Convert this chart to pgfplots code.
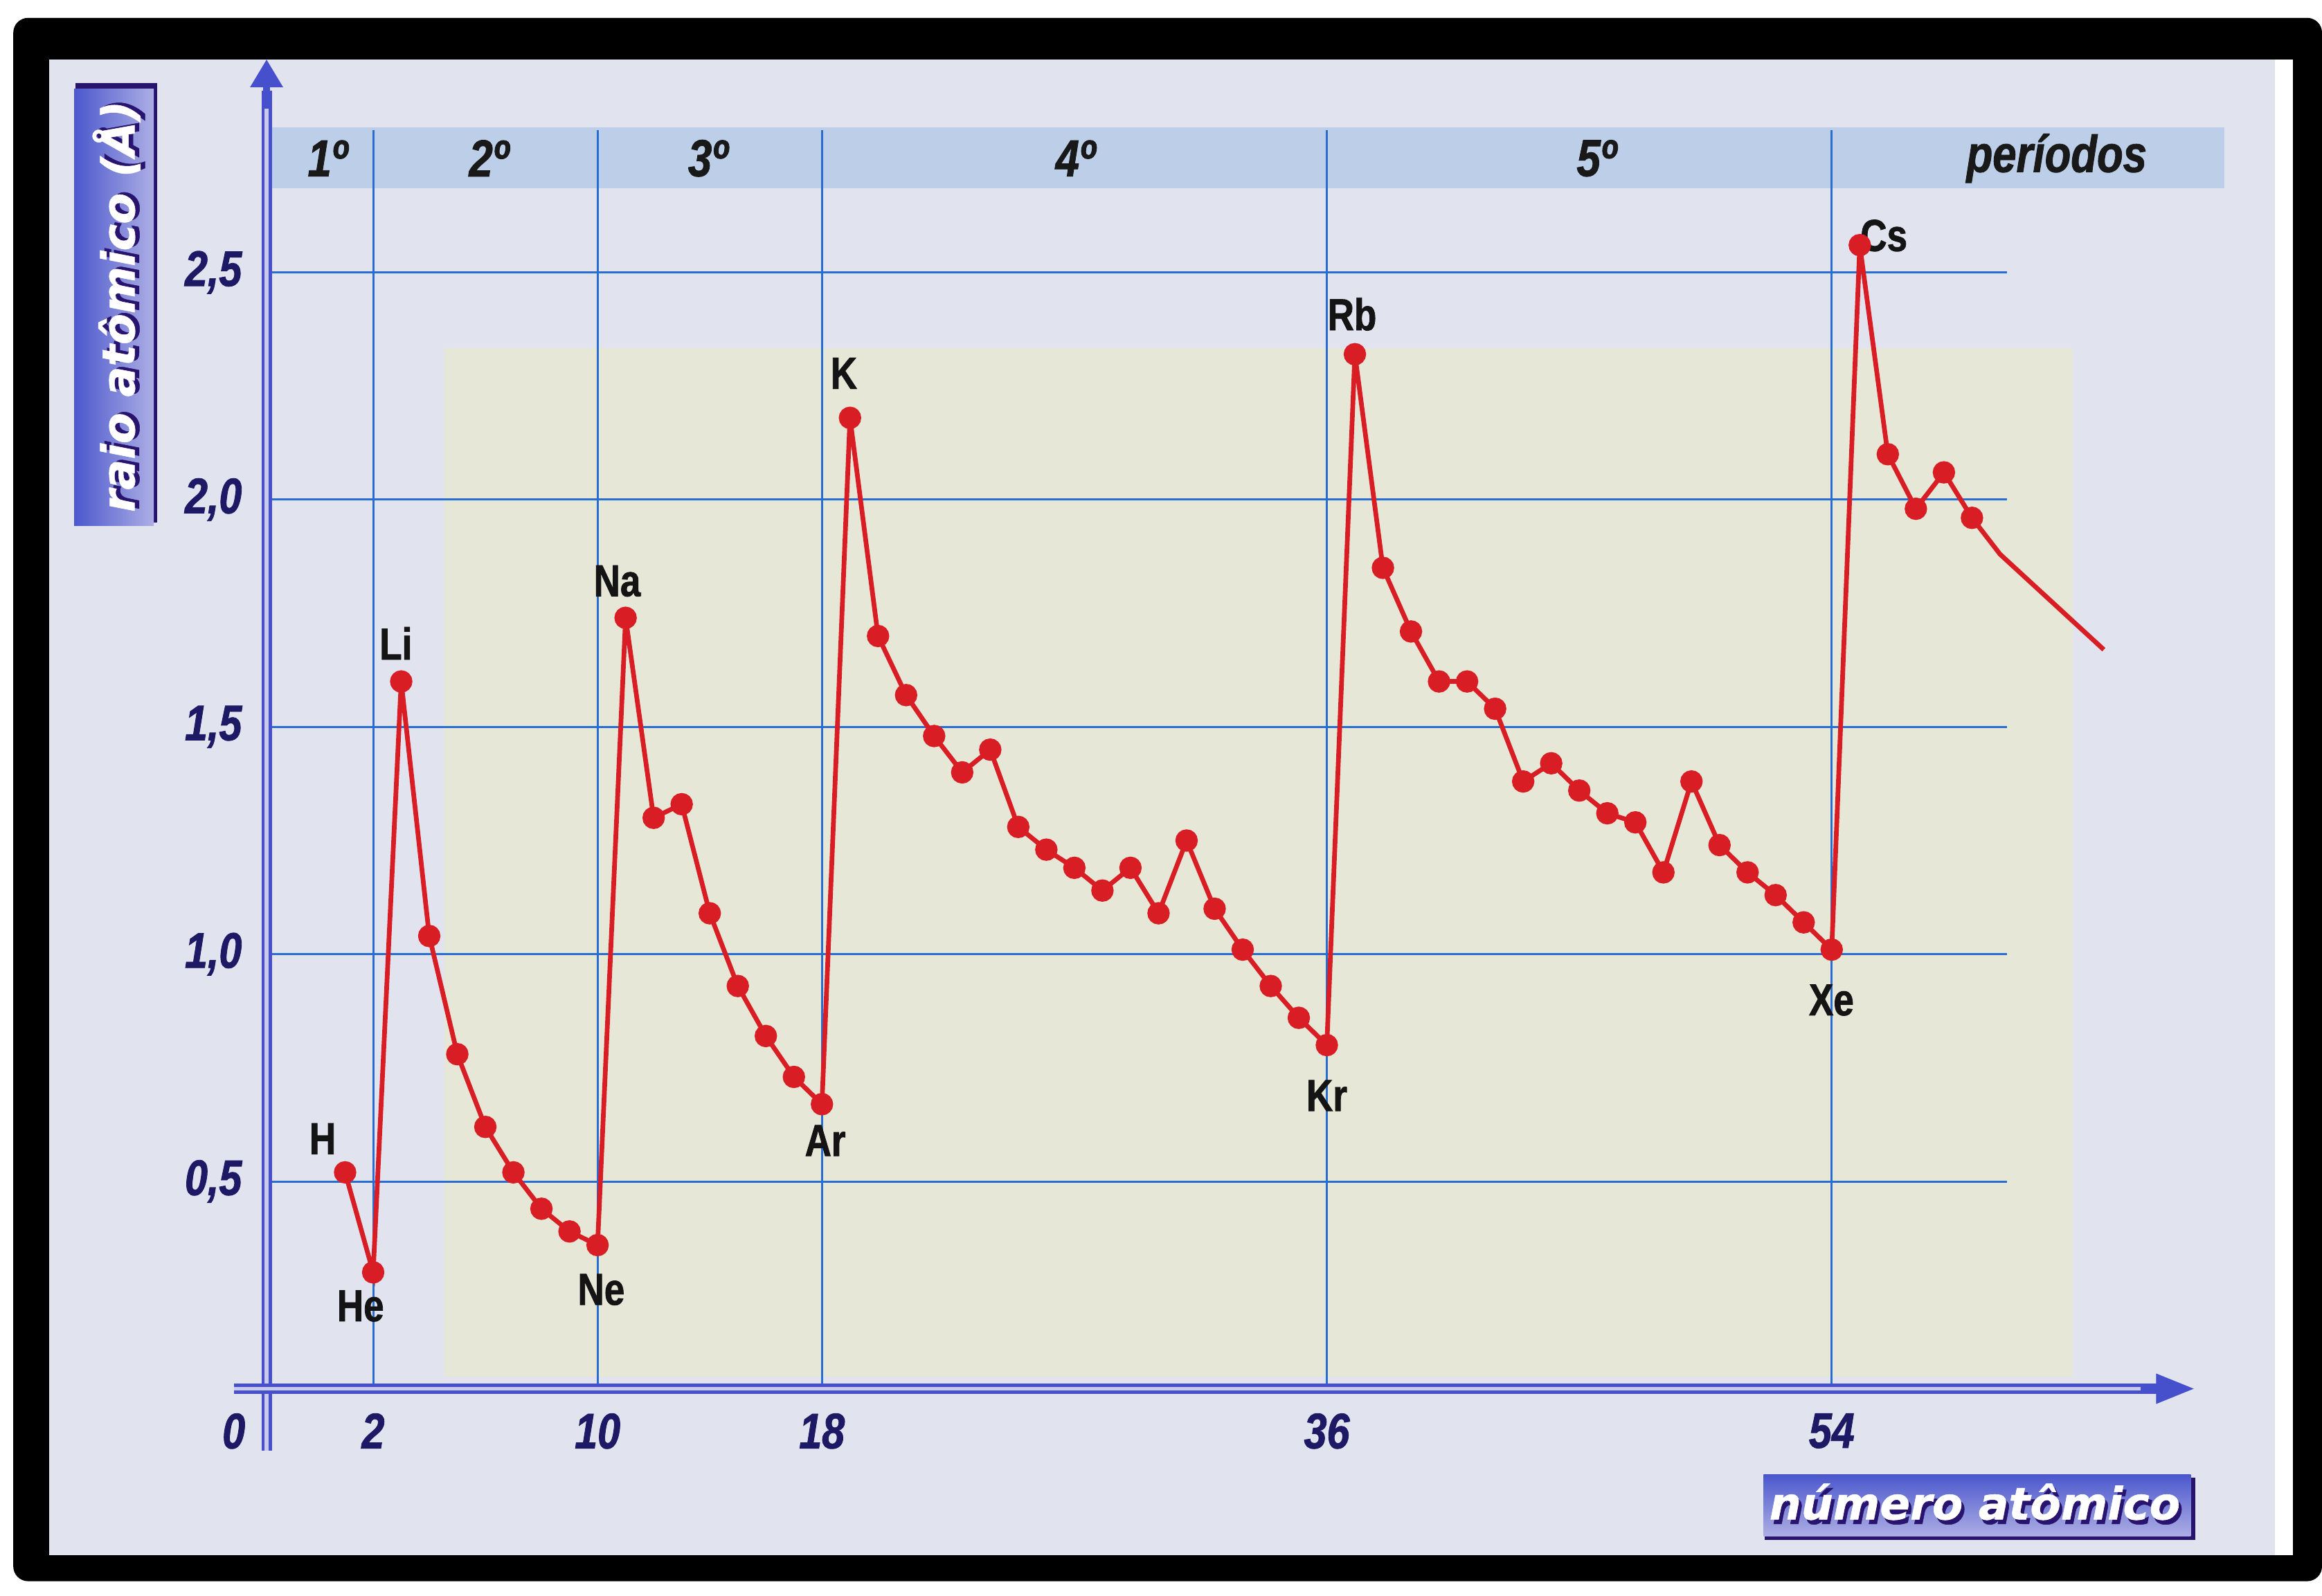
\documentclass[border=0pt]{standalone}
\usepackage{pgfplots}
\pgfplotsset{compat=1.18}
\usepackage{pgfplotstable}
\usetikzlibrary{arrows.meta}
\usepackage{fontspec}
\setmainfont{Liberation Sans}
\newfontfamily\condfont[FakeStretch=0.82]{Liberation Sans}
\newfontfamily\heavyfont[FakeStretch=0.82, FakeBold=1.2]{Liberation Sans}
\newfontfamily\roundfont[FakeBold=0.8]{DejaVu Sans}

\definecolor{chartred}{RGB}{216,30,36}
\definecolor{gridblue}{RGB}{40,110,210}
\definecolor{axisblue}{RGB}{70,80,205}
\definecolor{axislight}{RGB}{200,202,238}
\definecolor{navy}{RGB}{30,25,100}
\definecolor{bandblue}{RGB}{188,206,232}
\definecolor{bglav}{RGB}{225,227,239}
\definecolor{bgyellow}{RGB}{231,231,215}
\definecolor{boxdark}{RGB}{75,88,205}
\definecolor{boxlight}{RGB}{172,174,228}
\definecolor{shadownavy}{RGB}{40,20,110}

% atomic radius (angstrom) against atomic number
\pgfplotstableread{
Z r
1 0.52
2 0.30
3 1.60
4 1.04
5 0.78
6 0.62
7 0.52
8 0.44
9 0.39
10 0.36
11 1.74
12 1.30
13 1.33
14 1.09
15 0.93
16 0.82
17 0.73
18 0.67
19 2.18
20 1.70
21 1.57
22 1.48
23 1.40
24 1.45
25 1.28
26 1.23
27 1.19
28 1.14
29 1.19
30 1.09
31 1.25
32 1.10
33 1.01
34 0.93
35 0.86
36 0.80
37 2.32
38 1.85
39 1.71
40 1.60
41 1.60
42 1.54
43 1.38
44 1.42
45 1.36
46 1.31
47 1.29
48 1.18
49 1.38
50 1.24
51 1.18
52 1.13
53 1.07
54 1.01
55 2.56
56 2.10
57 1.98
58 2.06
59 1.96
}\radii
% the line runs on past Pr without marks
\pgfplotstableread{
Z r
59 1.96
60 1.88
63.7 1.67
}\tail

\begin{document}
\begin{tikzpicture}
\begin{axis}[
    clip=false,
    axis on top,
    x=1.894mm, y=30.7mm,
    xmin=-1.80, xmax=66.94,
    ymin=0.044, ymax=2.969,
    axis line style={draw=none},
    major tick length=0pt,
    xtick={2,10,18,36,54},
    xticklabels={2,10,18,36,54},
    ytick={0.5,1,1.5,2,2.5},
    yticklabels={{0,5},{1,0},{1,5},{2,0},{2,5}},
    tick label style={font=\heavyfont\bfseries\itshape\fontsize{9.6}{10}\selectfont,
        text=navy, inner sep=0pt},
    xticklabel style={anchor=north, yshift=-1.6mm},
    yticklabel style={anchor=east, xshift=-1.6mm},
]
% page, black frame and paper
\fill[white] (axis cs:-11.304,3.0993) rectangle (axis cs:71.48,-0.412);
\fill[black, rounded corners=1mm] (axis cs:-10.83,3.060) rectangle (axis cs:71.48,-0.3795);
\fill[white] (axis cs:69.79,2.969) rectangle (axis cs:70.43,-0.3225);
\fill[bglav] (axis cs:-9.56,2.969) rectangle (axis cs:69.79,-0.3225);
\fill[bgyellow] (axis cs:4.54,2.334) rectangle (axis cs:62.6,0.070);
% band of periods
\fill[bandblue] (axis cs:-1.80,2.819) rectangle (axis cs:68.0,2.6856);
% grid
\pgfplotsinvokeforeach{0.5,1,1.5,2,2.5}{
    \draw[gridblue, line width=0.4pt] (axis cs:-1.8,#1) -- (axis cs:60.25,#1);
}
\pgfplotsinvokeforeach{2,10,18,36,54}{
    \draw[gridblue, line width=0.4pt] (axis cs:#1,0.044) -- (axis cs:#1,2.8127);
}
% axes, drawn as double blue lines
\draw[axisblue, line width=0.22mm, double=axislight, double distance=0.26mm]
    (axis cs:-1.80,-0.093) -- (axis cs:-1.80,2.90);
\draw[axisblue, line width=0.5mm, -{Triangle[length=1.9mm,width=2.1mm]}]
    (axis cs:-1.80,2.86) -- (axis cs:-1.80,2.969);
\draw[axisblue, line width=0.22mm, double=axislight, double distance=0.26mm]
    (axis cs:-2.966,0.044) -- (axis cs:65.9,0.044);
\draw[axisblue, line width=0.5mm, -{Triangle[length=2.6mm,width=1.9mm]}]
    (axis cs:65.0,0.044) -- (axis cs:66.94,0.044);

% axis titles in blue boxes
\fill[shadownavy] (axis cs:-8.62,2.916) rectangle (axis cs:-5.70,1.950);
\shade[left color=boxdark, right color=boxlight]
    (axis cs:-8.66,2.903) rectangle (axis cs:-5.82,1.943);
\node[rotate=90, text=shadownavy, font=\roundfont\bfseries\itshape\fontsize{8.7}{10}\selectfont]
    at ([xshift=0.3mm,yshift=0.15mm]axis cs:-7.15,2.425) {raio atômico (Å)};
\node[rotate=90, text=white, font=\roundfont\bfseries\itshape\fontsize{8.7}{10}\selectfont]
    at (axis cs:-7.15,2.425) {raio atômico (Å)};

\fill[shadownavy] (axis cs:51.62,-0.151) rectangle (axis cs:66.97,-0.2885);
\shade[top color=boxdark, bottom color=boxlight]
    (axis cs:51.57,-0.1453) rectangle (axis cs:66.80,-0.2800);
\node[text=shadownavy, font=\roundfont\bfseries\itshape\fontsize{8.6}{10}\selectfont]
    at ([xshift=0.2mm,yshift=-0.3mm]axis cs:59.1,-0.205) {número atômico};
\node[text=white, font=\roundfont\bfseries\itshape\fontsize{8.6}{10}\selectfont]
    at (axis cs:59.1,-0.205) {número atômico};

% data
\addplot[chartred, line width=0.9pt, mark=*, mark size=1.7pt,
    mark options={solid, fill=chartred, draw=chartred}] table[x=Z, y=r] {\radii};
\addplot[chartred, line width=0.9pt, no markers] table[x=Z, y=r] {\tail};

% origin label
\node[anchor=north, inner sep=0pt, yshift=-1.6mm, text=navy,
    font=\heavyfont\bfseries\itshape\fontsize{9.6}{10}\selectfont]
    at (axis cs:-2.97,0.044) {0};

% periods
\begin{scope}[every node/.style={font=\heavyfont\bfseries\itshape\fontsize{10}{12}\selectfont, text=black!90}]
\node at (axis cs:0.37,2.751) {1º};
\node at (axis cs:6.12,2.751) {2º};
\node at (axis cs:13.93,2.751) {3º};
\node at (axis cs:27.03,2.751) {4º};
\node at (axis cs:45.61,2.751) {5º};
\node at (axis cs:62.02,2.751) {períodos};
\end{scope}

% element names
\begin{scope}[every node/.style={font=\heavyfont\bfseries\fontsize{8.6}{10}\selectfont, text=black!92}]
\node at (axis cs:0.20,0.594) {H};
\node at (axis cs:1.55,0.226) {He};
\node at (axis cs:2.81,1.684) {Li};
\node at (axis cs:10.13,0.262) {Ne};
\node at (axis cs:10.70,1.821) {Na};
\node at (axis cs:18.12,0.590) {Ar};
\node at (axis cs:18.78,2.278) {K};
\node at (axis cs:36.0,0.689) {Kr};
\node at (axis cs:36.90,2.408) {Rb};
\node at (axis cs:53.99,0.899) {Xe};
\node at (axis cs:55.86,2.581) {Cs};
\end{scope}
\end{axis}
\end{tikzpicture}
\end{document}
